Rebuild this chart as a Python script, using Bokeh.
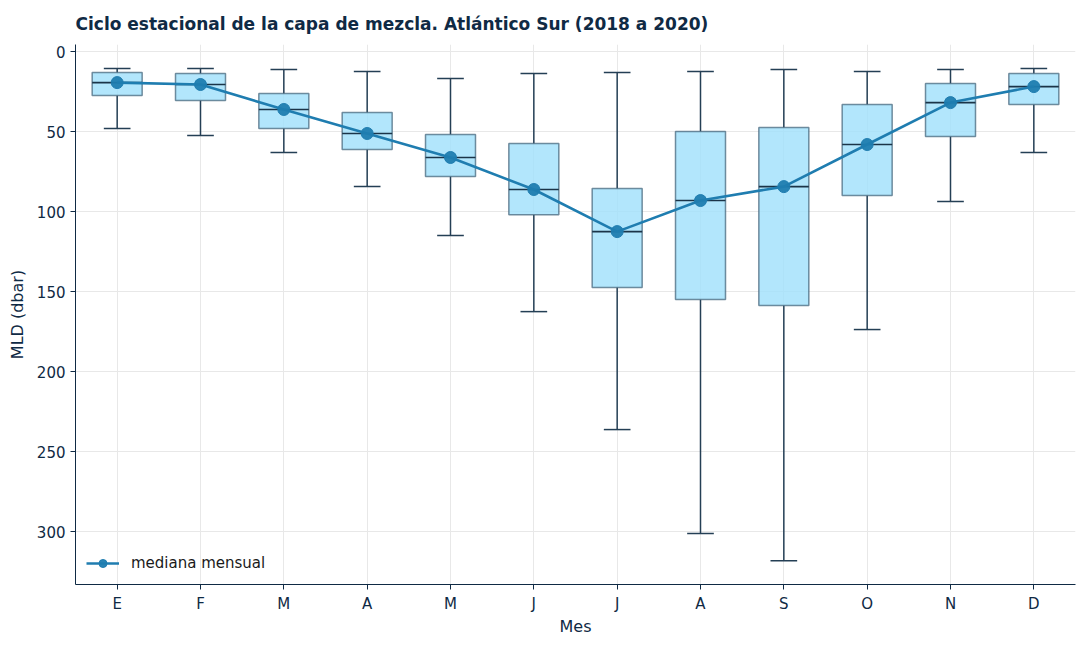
from bokeh.plotting import figure
from bokeh.models import Range1d, FixedTicker, ColumnDataSource, Legend, LegendItem
from bokeh.embed import file_html
from bokeh.resources import INLINE

months = ["E", "F", "M", "A", "M", "J", "J", "A", "S", "O", "N", "D"]
whisk_lo = [10.6, 10.6, 11.2, 12.5, 16.9, 13.7, 13.1, 12.5, 11.2, 12.5, 11.2, 10.6]
q1 = [13.1, 13.7, 26.2, 38.1, 51.9, 57.5, 85.6, 50.0, 47.5, 33.1, 20.0, 13.7]
med = [19.4, 20.6, 36.2, 51.2, 66.2, 86.2, 112.5, 93.1, 84.4, 58.1, 31.9, 21.9]
q3 = [27.5, 30.6, 48.1, 61.2, 78.1, 101.9, 147.5, 155.0, 158.7, 90.0, 53.1, 33.1]
whisk_hi = [48.1, 52.5, 63.1, 84.4, 115.0, 162.5, 236.2, 301.2, 318.1, 173.7, 93.7, 63.1]
title_text = "Ciclo estacional de la capa de mezcla. Atlántico Sur (2018 a 2020)"

x = list(range(len(months)))
src = ColumnDataSource(dict(
    x=x, lo=whisk_lo, q1=q1, med=med, q3=q3, hi=whisk_hi,
    xl=[i - 0.3 for i in x], xr=[i + 0.3 for i in x],
    cl=[i - 0.16 for i in x], cr=[i + 0.16 for i in x],
))

NAVY = "#0f2a44"
FONT = "DejaVu Sans"

p = figure(width=1085, height=645, output_backend="svg", toolbar_location=None,
           x_range=Range1d(-0.5, 11.5), y_range=Range1d(333, -4.4), title=title_text,
           min_border_left=75, min_border_right=10, min_border_top=44, min_border_bottom=61)

p.title.text_font = FONT
p.title.text_font_size = "17px"
p.title.text_font_style = "bold"
p.title.text_color = NAVY
p.title.standoff = 22

p.outline_line_color = None
p.background_fill_color = "white"
p.border_fill_color = "white"

p.xgrid.grid_line_color = "#e8e8e8"
p.ygrid.grid_line_color = "#e8e8e8"
p.xgrid.ticker = FixedTicker(ticks=x)
p.ygrid.ticker = FixedTicker(ticks=[0, 50, 100, 150, 200, 250, 300])

p.xaxis.ticker = FixedTicker(ticks=x)
p.xaxis.major_label_overrides = {i: m for i, m in enumerate(months)}
p.yaxis.ticker = FixedTicker(ticks=[0, 50, 100, 150, 200, 250, 300])
for ax in (p.xaxis[0], p.yaxis[0]):
    ax.axis_line_color = NAVY
    ax.major_tick_line_color = NAVY
    ax.minor_tick_line_color = None
    ax.major_tick_in = 0
    ax.major_tick_out = 5
    ax.major_label_text_font = FONT
    ax.major_label_text_font_size = "15px"
    ax.major_label_text_color = NAVY
    ax.axis_label_text_font = FONT
    ax.axis_label_text_font_size = "16px"
    ax.axis_label_text_font_style = "normal"
    ax.axis_label_text_color = NAVY
p.xaxis.axis_label = "Mes"
p.yaxis.axis_label = "MLD (dbar)"
p.xaxis.axis_label_standoff = 1
p.yaxis.axis_label_standoff = 7

WH = "#243f55"
p.segment(x0="x", y0="lo", x1="x", y1="q1", source=src, line_color=WH, line_width=1.5)
p.segment(x0="x", y0="q3", x1="x", y1="hi", source=src, line_color=WH, line_width=1.5)
p.segment(x0="cl", y0="lo", x1="cr", y1="lo", source=src, line_color=WH, line_width=1.5)
p.segment(x0="cl", y0="hi", x1="cr", y1="hi", source=src, line_color=WH, line_width=1.5)
p.vbar(x="x", width=0.6, top="q1", bottom="q3", source=src,
       fill_color="#9fe0fb", fill_alpha=0.8, line_color="#3d5e75", line_alpha=0.7, line_width=1.5)
p.segment(x0="xl", y0="med", x1="xr", y1="med", source=src, line_color="#1b3448", line_width=1.6)

r_line = p.line(x="x", y="med", source=src, line_color="#1f7db0", line_width=2.6)
r_pts = p.scatter(x="x", y="med", source=src, size=12, fill_color="#1f7db0",
                  line_color="#1f7db0", fill_alpha=0.95)

legend = Legend(items=[LegendItem(label="mediana mensual", renderers=[r_line, r_pts])],
                location=(11, 11), border_line_color=None, background_fill_alpha=0.0,
                label_text_font=FONT, label_text_font_size="15px", label_text_color="#1a1a1a",
                glyph_width=33, label_standoff=12, margin=0, padding=10)
p.add_layout(legend)

open("out.html", "w").write(file_html(p, INLINE))
